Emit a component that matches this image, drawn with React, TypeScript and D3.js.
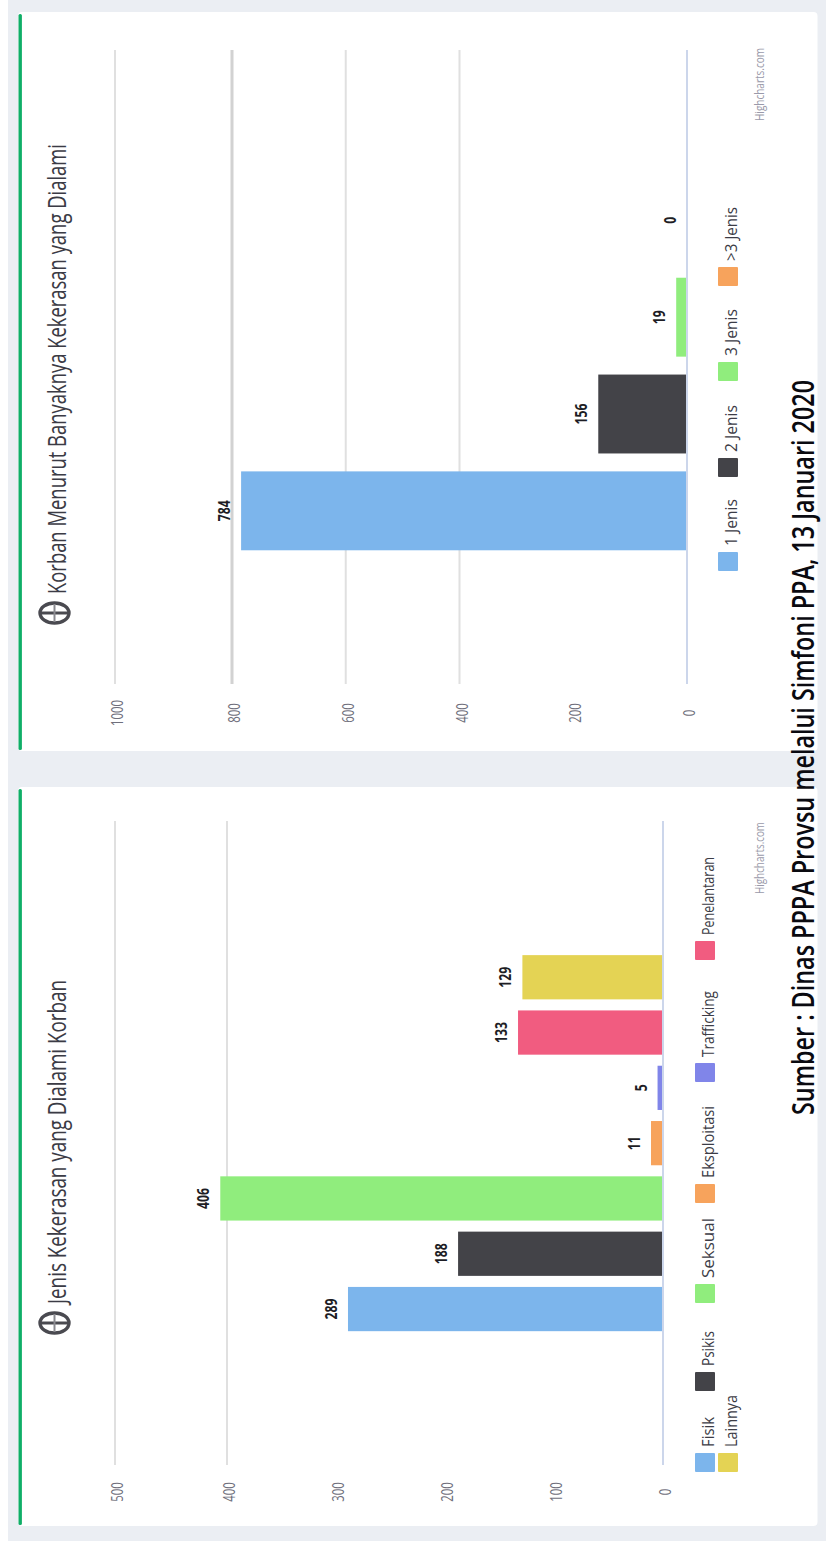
import React from "react";
import * as d3 from "d3";

// Chart 1: victims by number of violence types experienced
const victimCategories = ["1 Jenis", "2 Jenis", "3 Jenis", ">3 Jenis"];
const victimValues = [784, 156, 19, 0];
const victimTicks = [0, 200, 400, 600, 800, 1000];
const victimGrid = [400, 600, 800, 1000];
const victimColors = ["#7cb5ec", "#434348", "#90ed7d", "#f7a35c"];

// Chart 2: violence type experienced by victims
const typeCategories = ["Fisik", "Psikis", "Seksual", "Eksploitasi", "Trafficking", "Penelantaran", "Lainnya"];
const typeValues = [289, 188, 406, 11, 5, 133, 129];
const typeTicks = [0, 100, 200, 300, 400, 500];
const typeGrid = [400, 500];
const typeColors = ["#7cb5ec", "#434348", "#90ed7d", "#f7a35c", "#8085e9", "#f15c80", "#e4d354"];

const victimTitle = "Korban Menurut Banyaknya Kekerasan yang Dialami";
const typeTitle = "Jenis Kekerasan yang Dialami Korban";
const sourceNote = "Sumber : Dinas PPPA Provsu melalui Simfoni PPA, 13 Januari 2020";
const credit = "Highcharts.com";

const FONT = "'Open Sans', 'DejaVu Sans', sans-serif";

// Text running bottom-to-top, as the whole page is turned a quarter turn.
// A length squeezes the glyphs along the run, since the page is narrower that way.
function VText(props: {
  x: number; y: number; size: number; fill: string; weight?: number;
  anchor?: string; length?: number; children: React.ReactNode;
}) {
  const { x, y, size, fill, weight = 400, anchor = "start", length, children } = props;
  return (
    <text
      transform={`translate(${x},${y}) rotate(-90)`}
      fontFamily={FONT}
      fontSize={size}
      fontWeight={weight}
      fill={fill}
      textAnchor={anchor}
      {...(length ? { textLength: length, lengthAdjust: "spacingAndGlyphs" } : {})}
    >
      {children}
    </text>
  );
}

function MenuIcon({ cx, cy }: { cx: number; cy: number }) {
  return (
    <g fill="none" stroke="#4a4a50">
      <ellipse cx={cx} cy={cy} rx={14.5} ry={10} strokeWidth={3.4} />
      <line x1={cx - 14} x2={cx + 14} y1={cy} y2={cy} strokeWidth={3} />
      <line x1={cx} x2={cx} y1={cy - 9} y2={cy + 9} strokeWidth={2} stroke="#8a8a90" />
    </g>
  );
}

function Card({ top, bottom }: { top: number; bottom: number }) {
  return (
    <g>
      <rect x={18} y={top} width={799.5} height={bottom - top} rx={4} fill="#ffffff" />
      <rect x={18.5} y={top + 2} width={3.4} height={bottom - top - 3} rx={1.5} fill="#0fae67" />
    </g>
  );
}

type LegendSlot = { x: number; y: number; textLen: number };

function ChartPanel(props: {
  categories: string[]; values: number[]; colors: string[];
  ticks: number[]; grid: number[];
  xDomain: number[]; xRange: number[];
  bandRange: [number, number]; padInner: number; padOuter: number;
  gridStart: number; gridEnd: number; tickY: number;
  title: string; titleY: number; titleLen: number; iconY: number;
  legend: LegendSlot[];
  creditY: number; creditLen: number;
}) {
  const p = props;
  const x = d3.scaleLinear().domain(p.xDomain).range(p.xRange);
  const band = d3.scaleBand<string>()
    .domain(p.categories)
    .range(p.bandRange)
    .paddingInner(p.padInner)
    .paddingOuter(p.padOuter);
  const bw = band.bandwidth();
  return (
    <g>
      <MenuIcon cx={54.5} cy={p.iconY} />
      <VText x={66} y={p.titleY} size={25} fill="#3b3b45" length={p.titleLen}>{p.title}</VText>

      {p.grid.map((t) => (
        <line key={t} x1={x(t)} x2={x(t)} y1={p.gridStart} y2={p.gridEnd}
          stroke={t === 800 ? "#d2d2d2" : "#e0e0e0"} strokeWidth={t === 800 ? 3 : 2} />
      ))}
      {p.ticks.map((t) => {
        const s = String(t);
        return (
          <VText key={t} x={x(t) + 8} y={p.tickY} size={16} fill="#6f6f7c" anchor="middle"
            length={s.length * 6.5}>
            {s}
          </VText>
        );
      })}

      {p.categories.map((c, i) => (
        <rect key={c} x={x(p.values[i])} width={x(0) - x(p.values[i])}
          y={band(c)!} height={bw} fill={p.colors[i]} />
      ))}
      <line x1={x(0)} x2={x(0)} y1={p.gridStart} y2={p.gridEnd} stroke="#ccd6eb" strokeWidth={2} />

      {p.categories.map((c, i) => {
        const s = String(p.values[i]);
        return (
          <VText key={c} x={x(p.values[i]) - 11} y={band(c)! + bw / 2}
            size={16} weight={700} fill="#1d1d24" anchor="middle" length={s.length * 7}>
            {s}
          </VText>
        );
      })}

      {p.categories.map((c, i) => {
        const s = p.legend[i];
        return (
          <g key={c}>
            <rect x={s.x} y={s.y} width={20} height={19} rx={1} fill={p.colors[i]} />
            <VText x={s.x + 19} y={s.y - 6} size={17} fill="#3c3c46" length={s.textLen}>{c}</VText>
          </g>
        );
      })}

      <VText x={764} y={p.creditY} size={13} fill="#9a9aaa" length={p.creditLen}>{credit}</VText>
    </g>
  );
}

// Legend slots for each panel, in category order
const victimLegend: LegendSlot[] = [
  { x: 718, y: 552, textLen: 47 },
  { x: 718, y: 458, textLen: 47 },
  { x: 718, y: 362, textLen: 47 },
  { x: 718, y: 267, textLen: 54 },
];
const typeLegend: LegendSlot[] = [
  { x: 695, y: 1453, textLen: 30 },
  { x: 695, y: 1372, textLen: 35 },
  { x: 695, y: 1284, textLen: 60 },
  { x: 695, y: 1184, textLen: 72 },
  { x: 695, y: 1063, textLen: 66 },
  { x: 695, y: 941, textLen: 78 },
  { x: 718, y: 1453, textLen: 52 },
];

export default function App() {
  return (
    <svg width={826} height={1541} viewBox="0 0 826 1541"
      style={{ position: "absolute", left: 0, top: 0, display: "block" }}>
      <rect x={0} y={0} width={826} height={1541} fill="#ffffff" />
      <rect x={8} y={0} width={818} height={1541} fill="#ebeef3" />
      <Card top={12} bottom={751} />
      <Card top={787} bottom={1526} />

      <ChartPanel
        categories={victimCategories} values={victimValues} colors={victimColors}
        ticks={victimTicks} grid={victimGrid}
        xDomain={[0, 800, 1000]} xRange={[687, 232, 115]}
        bandRange={[559, 172.2]} padInner={0.185} padOuter={0.09}
        gridStart={50} gridEnd={684} tickY={713}
        title={victimTitle} titleY={594} titleLen={450} iconY={613}
        legend={victimLegend}
        creditY={121} creditLen={73}
      />
      <ChartPanel
        categories={typeCategories} values={typeValues} colors={typeColors}
        ticks={typeTicks} grid={typeGrid}
        xDomain={[0, 400, 500]} xRange={[663, 227, 115]}
        bandRange={[1336.7, 949.6]} padInner={0.2} padOuter={0.1}
        gridStart={821} gridEnd={1465} tickY={1492}
        title={typeTitle} titleY={1304} titleLen={324} iconY={1323}
        legend={typeLegend}
        creditY={894} creditLen={72}
      />

      <VText x={814} y={1115} size={30} weight={600} fill="#0a0a10" length={735}>{sourceNote}</VText>
    </svg>
  );
}
